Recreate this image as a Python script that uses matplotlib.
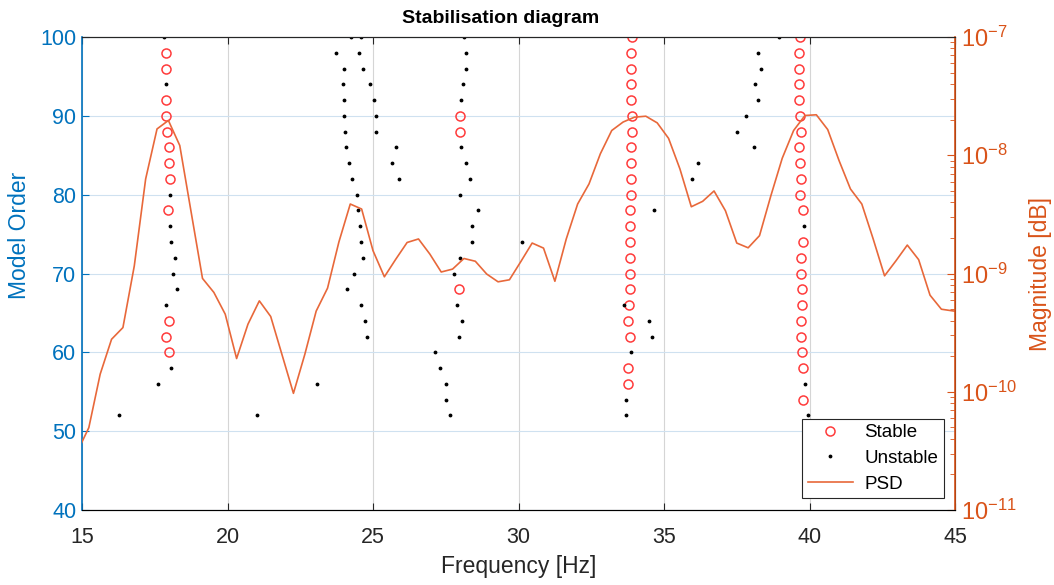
import numpy as np
import matplotlib
matplotlib.use("Agg")
import matplotlib.pyplot as plt
from matplotlib.lines import Line2D
from matplotlib.ticker import LogLocator, NullFormatter

plt.rcParams['font.family'] = ['Liberation Sans', 'DejaVu Sans']

# stable poles (frequency [Hz], model order)
stable_freq = [17.90, 17.90, 17.90, 17.90, 17.93, 17.98, 17.98, 18.02, 17.94, 17.99, 17.90, 17.98,
               27.98, 27.98, 27.97,
               33.90, 33.88, 33.88, 33.88, 33.88, 33.89, 33.89, 33.88, 33.88, 33.88, 33.86, 33.82,
               33.82, 33.82, 33.83, 33.84, 33.84, 33.78, 33.76, 33.82, 33.77, 33.76,
               39.66, 39.64, 39.64, 39.64, 39.64, 39.67, 39.71, 39.65, 39.68, 39.69, 39.68, 39.76,
               39.78, 39.72, 39.71, 39.73, 39.73, 39.71, 39.71, 39.73, 39.76, 39.78]
stable_order = [98, 96, 92, 90, 88, 86, 84, 82, 78, 64, 62, 60,
                90, 88, 68,
                100, 98, 96, 94, 92, 90, 88, 86, 84, 82, 80, 78,
                76, 74, 72, 70, 68, 66, 64, 62, 58, 56,
                100, 98, 96, 94, 92, 90, 88, 86, 84, 82, 80, 78,
                74, 72, 70, 68, 66, 64, 62, 60, 58, 54]

# unstable poles
unstable_freq = [17.83, 24.24, 24.59, 28.14, 38.94,
                 23.74, 24.51, 28.18, 38.23,
                 24.00, 24.67, 28.18, 38.34,
                 17.87, 23.96, 24.91, 28.08, 38.13,
                 23.99, 25.05, 28.04, 38.22,
                 23.99, 25.11, 37.80,
                 24.05, 25.11, 37.51,
                 24.08, 25.80, 28.04, 38.08,
                 24.17, 25.66, 28.21, 36.18,
                 24.29, 25.89, 28.32, 35.97,
                 18.03, 24.46, 27.98,
                 24.49, 28.62, 34.67,
                 18.01, 24.55, 28.41, 39.82,
                 18.07, 24.59, 28.41, 30.12,
                 18.18, 24.64, 27.98,
                 18.14, 24.33, 27.77,
                 18.27, 24.09,
                 17.90, 24.59, 27.87, 33.63,
                 24.72, 28.07, 34.50,
                 24.81, 27.97, 34.58,
                 27.13, 33.85,
                 18.07, 27.29,
                 17.61, 23.08, 27.51, 39.86,
                 27.52, 33.69,
                 16.28, 21.03, 27.64, 33.69, 39.94]
unstable_order = [100] * 5 + [98] * 4 + [96] * 4 + [94] * 5 + [92] * 4 + [90] * 3 + [88] * 3 \
    + [86] * 4 + [84] * 4 + [82] * 4 + [80] * 3 + [78] * 3 + [76] * 4 + [74] * 4 + [72] * 3 \
    + [70] * 3 + [68] * 2 + [66] * 4 + [64] * 3 + [62] * 3 + [60] * 2 + [58] * 2 + [56] * 4 \
    + [54] * 2 + [52] * 5

# PSD on the FFT bin grid (df = 100/256 Hz), bins 38..116
df = 100 / 256
psd_bins = np.arange(38, 117)
psd_mag = [3.13e-11, 4.97e-11, 1.41e-10, 2.78e-10, 3.49e-10, 1.16e-9, 6.31e-9, 1.67e-8, 1.97e-8, 1.21e-8,
           3.31e-9, 9.09e-10, 6.92e-10, 4.53e-10, 1.91e-10, 3.73e-10, 5.87e-10, 4.33e-10, 2.05e-10, 9.70e-11,
           2.07e-10, 4.81e-10, 7.52e-10, 1.85e-9, 3.87e-9, 3.51e-9, 1.56e-9, 9.38e-10, 1.32e-9, 1.83e-9,
           1.96e-9, 1.46e-9, 1.03e-9, 1.09e-9, 1.34e-9, 1.27e-9, 9.90e-10, 8.51e-10, 8.85e-10, 1.26e-9,
           1.81e-9, 1.64e-9, 8.60e-10, 1.96e-9, 3.87e-9, 5.72e-9, 1.03e-8, 1.62e-8, 1.91e-8, 2.10e-8,
           2.14e-8, 1.88e-8, 1.39e-8, 7.66e-9, 3.67e-9, 4.08e-9, 4.99e-9, 3.40e-9, 1.81e-9, 1.65e-9,
           2.09e-9, 4.55e-9, 9.44e-9, 1.62e-8, 2.17e-8, 2.20e-8, 1.65e-8, 9.01e-9, 5.19e-9, 3.87e-9,
           1.96e-9, 9.56e-10, 1.28e-9, 1.74e-9, 1.31e-9, 6.56e-10, 4.99e-10, 4.83e-10, 4.70e-10]
psd_freq = psd_bins * df

blue = '#0072BD'
orange = '#D95319'
dark = '#262626'
psd_color = '#E8683A'
stable_color = '#FF3B3B'

fig = plt.figure(figsize=(10.54, 5.85), dpi=100)
ax = fig.add_axes([0.0778, 0.1282, 0.8283, 0.8085])

ax.plot(stable_freq, stable_order, 'o', ms=6.5, mfc='none', mec=stable_color, mew=1.1, zorder=3)
ax.plot(unstable_freq, unstable_order, '.', ms=3.5, color='black', zorder=3)

ax.set_xlim(15, 45)
ax.set_ylim(40, 100)
ax.set_xticks(np.arange(15, 46, 5))
ax.set_yticks(np.arange(40, 101, 10))
ax.xaxis.grid(True, color='#d5d5d5', lw=0.8)
ax.yaxis.grid(True, color='#cfe1f0', lw=0.8)
ax.set_axisbelow(True)

ax.tick_params(axis='x', direction='in', length=5, top=True, colors=dark, labelsize=15.5, pad=12)
ax.tick_params(axis='y', direction='in', length=5, colors=blue, labelsize=15.5, labelcolor=blue, pad=4)
for s in ['top', 'bottom']:
    ax.spines[s].set_color(dark)
ax.spines['left'].set_color(blue)
ax.spines['left'].set_linewidth(1.2)
ax.set_xlabel('Frequency [Hz]', fontsize=16.5, color=dark, labelpad=5)
ax.set_ylabel('Model Order', fontsize=16.5, color=blue)
ax.yaxis.set_label_coords(-0.058, 0.58)
ax.set_title('Stabilisation diagram', fontsize=14, fontweight='bold', color='black', pad=10, x=0.48)

ax2 = ax.twinx()
ax2.plot(psd_freq, psd_mag, color=psd_color, lw=1.2)
ax2.set_yscale('log')
ax2.set_ylim(1e-11, 1e-7)
ax2.set_yticks([1e-11, 1e-10, 1e-9, 1e-8, 1e-7])
ax2.yaxis.set_minor_locator(LogLocator(base=10, subs=np.arange(2, 10)))
ax2.yaxis.set_minor_formatter(NullFormatter())
ax2.tick_params(axis='y', which='major', direction='in', length=6, colors=orange, labelsize=17, pad=4)
ax2.tick_params(axis='y', which='minor', direction='in', length=3.5, colors=orange)
ax2.spines['right'].set_color(orange)
ax2.spines['right'].set_linewidth(1.2)
ax2.spines['left'].set_visible(False)
ax2.spines['top'].set_color(dark)
ax2.set_ylabel('Magnitude [dB]', fontsize=16.5, color=orange, labelpad=9)

handles = [Line2D([], [], ls='none', marker='o', ms=6.5, mfc='none', mec=stable_color, mew=1.1),
           Line2D([], [], ls='none', marker='.', ms=3.5, color='black'),
           Line2D([], [], color=psd_color, lw=1.2)]
leg = ax2.legend(handles, ['Stable', 'Unstable', 'PSD'], loc='lower right',
                 bbox_to_anchor=(0.987, 0.025), fontsize=13.5, fancybox=False,
                 framealpha=1, edgecolor=dark, borderpad=0.3, labelspacing=0.45,
                 handlelength=2.4, handletextpad=0.6, borderaxespad=0)
leg.get_frame().set_linewidth(0.8)

fig.savefig('out.png', dpi=100)
